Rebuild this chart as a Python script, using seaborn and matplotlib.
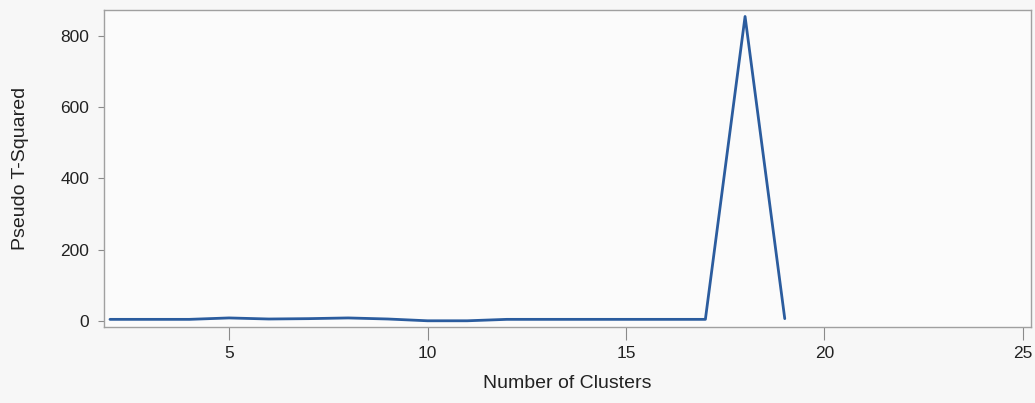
import matplotlib
matplotlib.use("Agg")
import matplotlib.pyplot as plt
import seaborn as sns
import pandas as pd

# Pseudo T-squared statistic by number of clusters
n_clusters = [2, 3, 4, 5, 6, 7, 8, 9, 10, 11, 12, 13, 14, 15, 16, 17, 18, 19]
pseudo_t2 = [4, 4, 4, 8, 5, 6, 8, 5, 0, 0, 4, 4, 4, 4, 4, 4, 855, 6]

x_ticks = [5, 10, 15, 20, 25]
y_ticks = [0, 200, 400, 600, 800]

sns.set_theme(style="white")
plt.rcParams["font.family"] = ["Liberation Sans", "DejaVu Sans"]

df = pd.DataFrame({"Number of Clusters": n_clusters, "Pseudo T-Squared": pseudo_t2})

fig = plt.figure(figsize=(10.35, 4.03), dpi=100, facecolor="#f7f7f7")
ax = fig.add_axes([0.1005, 0.189, 0.8955, 0.786])
ax.set_facecolor("#fbfbfb")

sns.lineplot(data=df, x="Number of Clusters", y="Pseudo T-Squared", ax=ax,
             color="#2b5c9e", linewidth=2.0)

ax.set_xlim(1.85, 25.2)
ax.set_ylim(-17, 873)
ax.set_xticks(x_ticks)
ax.set_yticks(y_ticks)
ax.tick_params(axis="both", which="major", width=0.8, color="#8a8a8a",
               labelsize=12.5, labelcolor="#222222", direction="out", bottom=True, left=True)
ax.tick_params(axis="x", length=9, pad=5)
ax.tick_params(axis="y", length=4.5, pad=6)
for s in ax.spines.values():
    s.set_color("#a0a0a0")
    s.set_linewidth(1.0)

ax.set_xlabel("Number of Clusters", fontsize=14, color="#222222")
ax.set_ylabel("Pseudo T-Squared", fontsize=14, color="#222222")
ax.xaxis.set_label_coords(0.5, -0.151)
ax.yaxis.set_label_coords(-0.081, 0.5)

fig.savefig("out.png", dpi=100, facecolor=fig.get_facecolor())
